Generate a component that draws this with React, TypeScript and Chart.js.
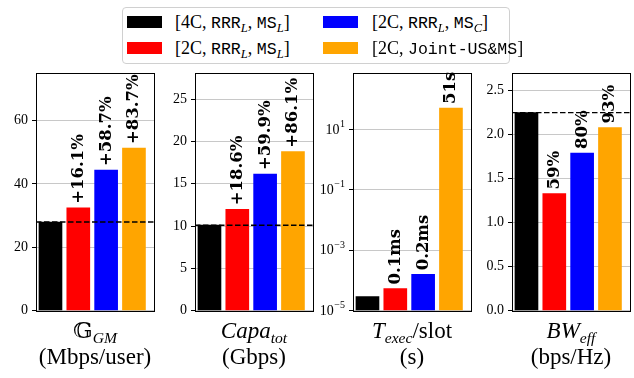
import React, { useEffect, useRef } from 'react';
import { Chart, registerables } from 'chart.js';
Chart.register(...registerables);

const barColors = ['#000000', '#ff0000', '#0000ff', '#ffa500'];

const gmValues = [27.95, 32.45, 44.35, 51.3];
const gmBarLabels = ['', '+16.1%', '+58.7%', '+83.7%'];
const gmTicks = [0, 20, 40, 60];
const gmTickLabels = ['0', '20', '40', '60'];
const gmRef = 27.95;

const capaValues = [10.1, 11.98, 16.15, 18.8];
const capaBarLabels = ['', '+18.6%', '+59.9%', '+86.1%'];
const capaTicks = [0, 5, 10, 15, 20, 25];
const capaTickLabels = ['0', '5', '10', '15', '20', '25'];
const capaRef = 10.1;

const texecValues = [2.9e-5, 5.4e-5, 1.6e-4, 51];
const texecBarLabels = ['', '0.1ms', '0.2ms', '51s'];
const texecTicks = [1e-5, 1e-3, 1e-1, 1e1];
const texecTickBase = ['10', '10', '10', '10'];
const texecTickExp = ['−5', '−3', '−1', '1'];

const bwValues = [2.25, 1.33, 1.79, 2.08];
const bwBarLabels = ['', '59%', '80%', '93%'];
const bwTicks = [0, 0.5, 1, 1.5, 2, 2.5];
const bwTickLabels = ['0.0', '0.5', '1.0', '1.5', '2.0', '2.5'];
const bwRef = 2.25;

const SERIF = '"Liberation Serif", "DejaVu Serif", serif';
const MONO = '"Liberation Mono", "DejaVu Sans Mono", monospace';

const PLOT_TOP = 73;
const PLOT_H = 240;
const PLOT_W = 118;
const PT = 14;
const PB = 10;
const PR = 4;

type PanelProps = {
  left: number;
  axisW: number;
  values: number[];
  barLabels: string[];
  ticks: number[];
  tickLabels?: string[];
  tickBase?: string[];
  tickExp?: string[];
  min: number;
  max: number;
  log?: boolean;
  refValue?: number;
};

function Panel(p: PanelProps) {
  const ref = useRef<HTMLCanvasElement>(null);
  const W = p.axisW + PLOT_W + PR;
  const H = PT + PLOT_H + PB;
  useEffect(() => {
    const annot = {
      id: 'annot',
      afterDatasetsDraw(chart: any) {
        const { ctx, chartArea } = chart;
        const ys = chart.scales.y;
        if (p.refValue !== undefined) {
          const y = ys.getPixelForValue(p.refValue);
          ctx.save();
          ctx.strokeStyle = '#000';
          ctx.lineWidth = 1.4;
          ctx.setLineDash([5.5, 2.5]);
          ctx.beginPath();
          ctx.moveTo(chartArea.left, y);
          ctx.lineTo(chartArea.right, y);
          ctx.stroke();
          ctx.restore();
        }
        const meta = chart.getDatasetMeta(0);
        ctx.save();
        ctx.fillStyle = '#000';
        ctx.font = 'bold 16.5px "DejaVu Serif", serif';
        meta.data.forEach((bar: any, i: number) => {
          const lab = p.barLabels[i];
          if (!lab) return;
          ctx.save();
          ctx.translate(bar.x, bar.y - 4);
          ctx.rotate(-Math.PI / 2);
          ctx.textAlign = 'left';
          ctx.textBaseline = 'alphabetic';
          ctx.fillText(lab, 0, 4.5);
          ctx.restore();
        });
        ctx.restore();
      },
      afterDraw(chart: any) {
        const { ctx, chartArea } = chart;
        ctx.save();
        ctx.strokeStyle = '#000';
        ctx.lineWidth = 1;
        ctx.strokeRect(
          Math.round(chartArea.left) + 0.5,
          Math.round(chartArea.top) + 0.5,
          Math.round(chartArea.right - chartArea.left),
          Math.round(chartArea.bottom - chartArea.top)
        );
        if (p.tickBase && p.tickExp) {
          const ys = chart.scales.y;
          const xr = chartArea.left - 8;
          ctx.fillStyle = '#000';
          ctx.textBaseline = 'middle';
          ctx.textAlign = 'right';
          p.ticks.forEach((v, i) => {
            const y = ys.getPixelForValue(v);
            ctx.font = `10px ${SERIF}`;
            const ew = ctx.measureText(p.tickExp![i]).width;
            ctx.fillText(p.tickExp![i], xr, y - 5);
            ctx.font = `14px ${SERIF}`;
            ctx.fillText(p.tickBase![i], xr - ew - 0.5, y + 0.5);
          });
        }
        ctx.restore();
      },
    };
    const chart = new Chart(ref.current as HTMLCanvasElement, {
      type: 'bar',
      data: {
        datasets: [
          {
            data: p.values.map((v, i) => ({ x: i, y: v })) as any,
            backgroundColor: barColors,
            barThickness: 23,
            base: p.log ? p.min : undefined,
          } as any,
        ],
      },
      options: {
        animation: false,
        responsive: false,
        maintainAspectRatio: false,
        devicePixelRatio: 1,
        layout: { padding: { top: PT, right: PR, bottom: PB, left: 0 } },
        plugins: { legend: { display: false }, tooltip: { enabled: false } },
        scales: {
          x: {
            type: 'linear',
            display: false,
            offset: false,
            min: -0.52,
            max: 3.72,
          },
          y: {
            type: p.log ? 'logarithmic' : 'linear',
            min: p.min,
            max: p.max,
            afterBuildTicks: (s: any) => {
              s.ticks = p.ticks.map((v) => ({ value: v }));
            },
            afterFit: (s: any) => {
              s.width = p.axisW;
            },
            ticks: {
              autoSkip: false,
              maxRotation: 0,
              padding: 4,
              color: '#000',
              font: { family: SERIF, size: 14 },
              callback: (_v: any, i: number) => (p.tickLabels ? p.tickLabels[i] : ''),
            },
            grid: {
              color: '#c8c8c8',
              tickColor: '#000',
              tickLength: 4,
              lineWidth: 1,
            },
            border: { display: true, color: '#000' },
          } as any,
        },
      } as any,
      plugins: [annot],
    });
    return () => chart.destroy();
  }, []);
  return (
    <canvas
      ref={ref}
      width={W}
      height={H}
      style={{ position: 'absolute', left: p.left - p.axisW, top: PLOT_TOP - PT, width: W, height: H }}
    />
  );
}

const subStyle: React.CSSProperties = {
  fontSize: '0.68em',
  fontStyle: 'italic',
  position: 'relative',
  top: '0.3em',
};
const legSub: React.CSSProperties = {
  fontSize: '0.7em',
  fontStyle: 'italic',
  position: 'relative',
  top: '0.28em',
};
const tt: React.CSSProperties = { fontFamily: MONO, fontSize: '0.92em' };

const Sub = ({ children }: { children: React.ReactNode }) => <span style={subStyle}>{children}</span>;
const LSub = ({ children }: { children: React.ReactNode }) => <span style={legSub}>{children}</span>;
const TT = ({ children }: { children: React.ReactNode }) => <span style={tt}>{children}</span>;

const legendEntries = [
  { color: barColors[0], swX: 127, swY: 16, txX: 175, cy: 22, node: <>[4C, <TT>RRR</TT><LSub>L</LSub>, <TT>MS</TT><LSub>L</LSub>]</> },
  { color: barColors[1], swX: 127, swY: 42, txX: 175, cy: 48, node: <>[2C, <TT>RRR</TT><LSub>L</LSub>, <TT>MS</TT><LSub>L</LSub>]</> },
  { color: barColors[2], swX: 323, swY: 16, txX: 372, cy: 22, node: <>[2C, <TT>RRR</TT><LSub>L</LSub>, <TT>MS</TT><LSub>C</LSub>]</> },
  { color: barColors[3], swX: 323, swY: 42, txX: 372, cy: 48, node: <>[2C, <TT>Joint-US&amp;MS</TT>]</> },
];

const panelLefts = [36, 195, 353, 512];

const titles = [
  { l1: <><span>𝔾</span><Sub>GM</Sub></>, l2: '(Mbps/user)' },
  { l1: <><i>Capa</i><Sub>tot</Sub></>, l2: '(Gbps)' },
  { l1: <><i>T</i><Sub>exec</Sub>/slot</>, l2: '(s)' },
  { l1: <><i>BW</i><Sub>eff</Sub></>, l2: '(bps/Hz)' },
];

export default function App() {
  return (
    <div style={{ position: 'fixed', left: 0, top: 0, width: 634, height: 378, background: '#fff', overflow: 'hidden', fontFamily: SERIF }}>
      <Panel left={panelLefts[0]} axisW={36} values={gmValues} barLabels={gmBarLabels} ticks={gmTicks} tickLabels={gmTickLabels} min={0} max={75} refValue={gmRef} />
      <Panel left={panelLefts[1]} axisW={36} values={capaValues} barLabels={capaBarLabels} ticks={capaTicks} tickLabels={capaTickLabels} min={0} max={28.1} refValue={capaRef} />
      <Panel left={panelLefts[2]} axisW={40} values={texecValues} barLabels={texecBarLabels} ticks={texecTicks} tickBase={texecTickBase} tickExp={texecTickExp} min={1e-5} max={740} log />
      <Panel left={panelLefts[3]} axisW={40} values={bwValues} barLabels={bwBarLabels} ticks={bwTicks} tickLabels={bwTickLabels} min={0} max={2.7} refValue={bwRef} />

      <div style={{ position: 'absolute', left: 122, top: 7, width: 388, height: 57, border: '1px solid #d0d0d0', borderRadius: 4, boxSizing: 'border-box', background: '#fff' }} />
      {legendEntries.map((e, i) => (
        <React.Fragment key={i}>
          <div style={{ position: 'absolute', left: e.swX, top: e.swY, width: 35, height: 12, background: e.color }} />
          <div style={{ position: 'absolute', left: e.txX, top: e.cy - 11, height: 22, lineHeight: '22px', fontSize: 18, whiteSpace: 'nowrap', color: '#000' }}>{e.node}</div>
        </React.Fragment>
      ))}

      {titles.map((t, i) => (
        <React.Fragment key={i}>
          <div style={{ position: 'absolute', left: panelLefts[i] + PLOT_W / 2 - 100, width: 200, top: 320, textAlign: 'center', fontSize: 23, lineHeight: '22px', whiteSpace: 'nowrap', color: '#000' }}>{t.l1}</div>
          <div style={{ position: 'absolute', left: panelLefts[i] + PLOT_W / 2 - 100, width: 200, top: 346, textAlign: 'center', fontSize: 23, lineHeight: '22px', whiteSpace: 'nowrap', color: '#000' }}>{t.l2}</div>
        </React.Fragment>
      ))}
    </div>
  );
}
